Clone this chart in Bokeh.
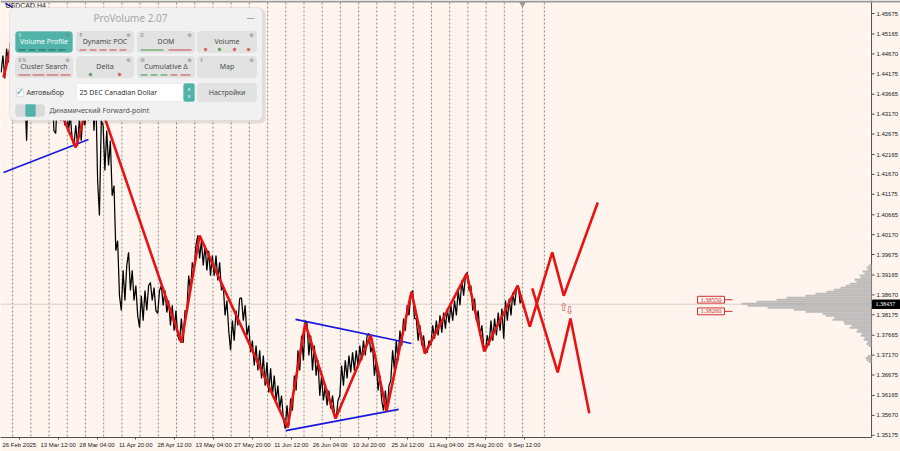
from bokeh.plotting import figure
from bokeh.models import Range1d, FixedTicker, PrintfTickFormatter, BoxAnnotation, Label
from bokeh.embed import file_html
from bokeh.resources import INLINE

BG = "#FFF5EE"

# ---------------- data ----------------
# daily highs / lows (H4 chart, 6 bars per day), from 26 Feb 2025
highs = [1.4463,1.4480,1.4495,1.4513,1.4530,1.4500,1.4463,1.4401,1.4426,1.4451,
         1.4463,1.4438,1.4426,1.4401,1.4388,1.4376,1.4363,1.4351,1.4339,1.4314,
         1.4289,1.4306,1.4321,1.4339,1.4351,1.4390,1.4370,1.4301,1.4289,1.4276,
         1.4251,1.4139,1.4002,1.3928,1.3940,1.3973,1.3928,1.3890,1.3865,1.3878,
         1.3890,1.3898,1.3885,1.3878,1.3890,1.3878,1.3853,1.3841,1.3828,1.3808,
         1.3828,1.3915,1.3948,1.3990,1.4015,1.4002,1.3990,1.3977,1.3965,1.3965,
         1.3948,1.3890,1.3853,1.3803,1.3828,1.3858,1.3860,1.3841,1.3791,1.3753,
         1.3741,1.3729,1.3716,1.3699,1.3684,1.3666,1.3641,1.3616,1.3592,1.3609,
         1.3666,1.3729,1.3766,1.3803,1.3796,1.3766,1.3741,1.3704,1.3666,1.3641,
         1.3629,1.3616,1.3604,1.3691,1.3704,1.3716,1.3724,1.3729,1.3741,1.3753,
         1.3766,1.3771,1.3741,1.3704,1.3666,1.3629,1.3641,1.3729,1.3753,1.3778,
         1.3808,1.3841,1.3870,1.3878,1.3808,1.3791,1.3766,1.3753,1.3791,1.3803,
         1.3816,1.3823,1.3833,1.3841,1.3853,1.3878,1.3903,1.3915,1.3923,1.3890,
         1.3858,1.3828,1.3791,1.3766,1.3803,1.3808,1.3823,1.3833,1.3853,1.3858,
         1.3873,1.3883,1.3890,1.3858]
lows = [1.4421,1.4406,1.4446,1.4463,1.4480,1.4438,1.4376,1.4251,1.4351,1.4376,
        1.4388,1.4363,1.4351,1.4314,1.4276,1.4269,1.4301,1.4289,1.4276,1.4256,
        1.4239,1.4239,1.4251,1.4289,1.4301,1.4276,1.4152,1.4065,1.4177,1.4189,
        1.4114,1.3977,1.3865,1.3828,1.3853,1.3878,1.3853,1.3816,1.3786,1.3803,
        1.3828,1.3853,1.3828,1.3821,1.3841,1.3823,1.3791,1.3778,1.3766,1.3753,
        1.3748,1.3828,1.3878,1.3928,1.3958,1.3940,1.3928,1.3915,1.3915,1.3903,
        1.3878,1.3816,1.3778,1.3729,1.3753,1.3791,1.3803,1.3766,1.3724,1.3691,
        1.3679,1.3659,1.3641,1.3624,1.3616,1.3604,1.3584,1.3559,1.3534,1.3542,
        1.3579,1.3629,1.3679,1.3704,1.3716,1.3679,1.3666,1.3616,1.3604,1.3592,
        1.3584,1.3574,1.3559,1.3616,1.3641,1.3659,1.3674,1.3679,1.3691,1.3704,
        1.3716,1.3724,1.3666,1.3629,1.3604,1.3579,1.3579,1.3654,1.3679,1.3704,
        1.3741,1.3778,1.3816,1.3808,1.3753,1.3741,1.3724,1.3724,1.3741,1.3758,
        1.3766,1.3773,1.3783,1.3798,1.3803,1.3816,1.3841,1.3865,1.3878,1.3828,
        1.3803,1.3766,1.3741,1.3729,1.3741,1.3753,1.3766,1.3778,1.3758,1.3803,
        1.3816,1.3841,1.3846,1.3833]
last_close = 1.38437

# zigzag (bar index, price)
zz_bars = [5, 23, 33, 46, 124, 153, 298, 328, 473, 502, 552, 610, 636, 677, 699, 768, 797, 852]
zz_prices = [1.4408, 1.4525, 1.4456, 1.4513, 1.4234, 1.4391, 1.3748, 1.4015, 1.3537, 1.3796,
             1.3559, 1.3766, 1.3577, 1.3875, 1.3721, 1.3920, 1.3726, 1.3890]
up_bars = [852, 872, 909, 928, 984]
up_prices = [1.3890, 1.3788, 1.3973, 1.3865, 1.4097]
dn_bars = [876, 918, 939, 970]
dn_prices = [1.3883, 1.3674, 1.3808, 1.3572]

# blue trend lines
blue_lines = [
    ([5, 145], [1.4172, 1.4254]),
    ([486, 677], [1.3806, 1.3746]),
    ([470, 656], [1.3529, 1.3582]),
    ([8, 20], [1.4593, 1.4583]),
]

# volume profile
vp_levels = [1.3940,1.3935,1.3930,1.3925,1.3920,1.3915,1.3910,1.3905,1.3900,1.3895,
             1.3890,1.3885,1.3880,1.3875,1.3870,1.3865,1.3860,1.3855,1.3850,1.3845,
             1.3840,1.3835,1.3830,1.3825,1.3820,1.3815,1.3810,1.3805,1.3800,1.3795,
             1.3790,1.3785,1.3780,1.3775,1.3770,1.3765,1.3760,1.3755,1.3750,1.3745,
             1.3740,1.3715,1.3710,1.3705,1.3700]
vp_volumes = [3,5,4,9,7,12,11,17,15,22,26,31,38,45,56,66,85,95,115,130,
              124,104,78,66,49,46,37,39,28,27,20,22,14,15,10,11,7,8,4,5,
              3,4,6,5,3]
poc_levels = [1.38550, 1.38260]

# axes
ytick_vals = [1.45675,1.45165,1.44670,1.44175,1.43665,1.43170,1.42675,1.42165,1.41670,1.41175,
              1.40665,1.40170,1.39675,1.39165,1.38670,1.38175,1.37665,1.37170,1.36675,1.36165,
              1.35670,1.35175]
xtick_bars = [31, 95, 159, 223, 287, 351, 415, 479, 543, 607, 671, 735, 799, 863]
xtick_labels = ["26 Feb 2025", "13 Mar 12:00", "28 Mar 04:00", "11 Apr 20:00", "28 Apr 12:00",
                "13 May 04:00", "27 May 20:00", "11 Jun 12:00", "26 Jun 04:00", "10 Jul 20:00",
                "25 Jul 12:00", "11 Aug 04:00", "25 Aug 20:00", "9 Sep 12:00"]
week_sep_bars = list(range(20, 861, 30)) + [896]

# ---------------- figure ----------------
# frame spans the full width; chart area = bars 0..1435 (ref px 0..871), price scale to the right
X_END = 1435
p = figure(width=900, height=451, x_range=Range1d(0, 1482.7), y_range=Range1d(1.35119, 1.4600),
           y_axis_location="right", output_backend="svg", toolbar_location=None,
           background_fill_color=BG, border_fill_color=BG,
           min_border_left=0, min_border_top=0, min_border_bottom=14, min_border_right=0)
p.extra_x_ranges = {"ref": Range1d(0, 900)}
p.extra_y_ranges = {"ref": Range1d(437, 0)}
p.grid.visible = False
p.outline_line_color = None

AX_FONT = "Liberation Sans"
ya = p.yaxis[0]
ya.ticker = FixedTicker(ticks=ytick_vals)
ya.formatter = PrintfTickFormatter(format="%.5f")
ya.fixed_location = 1476
ya.major_label_standoff = -23
ya.major_label_text_font = AX_FONT
ya.major_label_text_font_size = "6px"
ya.major_label_text_color = "#202020"
ya.major_tick_out = 3
ya.major_tick_in = 0
ya.minor_tick_out = 0
ya.minor_tick_in = 0
ya.axis_line_color = None
ya.major_tick_line_color = None

xa = p.xaxis[0]
xa.ticker = FixedTicker(ticks=xtick_bars)
xa.major_label_overrides = {b: s for b, s in zip(xtick_bars, xtick_labels)}
xa.bounds = (0, X_END)
xa.major_label_text_font = AX_FONT
xa.major_label_text_font_size = "6px"
xa.major_label_text_color = "#202020"
xa.major_tick_out = 2
xa.major_tick_in = 0
xa.minor_tick_out = 0
xa.minor_tick_in = 0
xa.major_label_standoff = 2
xa.axis_line_color = "#505050"
xa.major_tick_line_color = "#505050"

# price-scale line and ticks
p.segment(x0=X_END, y0=0, x1=X_END, y1=437, y_range_name="ref", line_color="#505050", line_width=1)
p.segment(x0=[X_END] * len(ytick_vals), y0=ytick_vals, x1=[X_END + 5] * len(ytick_vals), y1=ytick_vals,
          line_color="#505050", line_width=1)

# top frame line
p.segment(x0=0, y0=1, x1=900, y1=1, x_range_name="ref", y_range_name="ref",
          line_color="#9a9a9a", line_width=2)

# weekly separators
p.segment(x0=week_sep_bars, y0=2, x1=week_sep_bars, y1=437, y_range_name="ref",
          line_color="#8a8a8a", line_dash="2 2", line_width=1, level="underlay")

# current price line
p.segment(x0=0, y0=last_close, x1=X_END, y1=last_close, line_color="#dccfcb", line_width=1)

# price path
px, py = [], []
n = len(highs)
for i in range(n):
    mid = (highs[i] + lows[i]) / 2
    nxt = (highs[i + 1] + lows[i + 1]) / 2 if i + 1 < n else last_close
    seq = (highs[i], lows[i]) if nxt < mid else (lows[i], highs[i])
    px += [6 * i + 1, 6 * i + 4]
    py += list(seq)
px.append(861)
py.append(last_close)
p.line(px, py, line_color="black", line_width=1.25)

# volume profile
k = 1.647
p.hbar(y=vp_levels, left=[X_END - v * k for v in vp_volumes], right=X_END, height=0.0005,
       fill_color="#b0b0b0", fill_alpha=0.85, line_color=None)

# blue lines
for bx, by in blue_lines:
    p.line(bx, by, line_color="#1818E0", line_width=1.6)

# red zigzag + projections
p.line(zz_bars, zz_prices, line_color="#E81212", line_width=2.6)
p.line(up_bars, up_prices, line_color="#E81212", line_width=2.6)
p.line(dn_bars, dn_prices, line_color="#E81212", line_width=2.6)

p.text(x=[928], y=[1.3838], text=["⇧"], text_color="#E05050", text_font_size="11px",
       text_align="center", text_baseline="middle", text_font="DejaVu Sans")
p.text(x=[937], y=[1.3830], text=["⇩"], text_color="#E05050", text_font_size="11px",
       text_align="center", text_baseline="middle", text_font="DejaVu Sans")

# POC labels
for lev in poc_levels:
    p.quad(left=697, right=724, top=lev + 0.00085, bottom=lev - 0.00085, x_range_name="ref",
           fill_color=BG, line_color="#D03030", line_width=1)
    p.segment(x0=724, y0=lev, x1=732, y1=lev, x_range_name="ref", line_color="#D03030", line_width=1)
    p.text(x=[710.5], y=[lev], text=["%.5f" % lev], x_range_name="ref", text_color="#C83030",
           text_font_size="6.5px", text_align="center", text_baseline="middle", text_font=AX_FONT)

# top marker
p.scatter([522], [3], marker="inverted_triangle", size=6, color="#9a9a9a",
          x_range_name="ref", y_range_name="ref")

# symbol label
p.add_layout(Label(x=5, y=5, text="USDCAD,H4", x_range_name="ref", y_range_name="ref",
                   text_font_size="7px", text_color="#202020", text_baseline="middle", text_font=AX_FONT))

# current price box on the price scale
p.quad(left=872, right=900, top=last_close + 0.00105, bottom=last_close - 0.00105, x_range_name="ref",
       fill_color="black", line_color="black")
p.text(x=[875], y=[last_close], text=["%.5f" % last_close], x_range_name="ref",
       text_color="white", text_font_size="6px", text_baseline="middle", text_font=AX_FONT)

# ---------------- ProVolume panel ----------------
UI_FONT = "Noto Sans"
TEAL = "#4FB3AA"


def rbox(l, r, t, b, fill, line=None, radius=3, alpha=1.0):
    p.add_layout(BoxAnnotation(left=l, right=r, top=t, bottom=b, x_range_name="ref", y_range_name="ref",
                               fill_color=fill, fill_alpha=alpha, line_color=line, line_width=1,
                               border_radius=radius))


def lab(x, y, text, size, color, align="left", font=UI_FONT):
    p.add_layout(Label(x=x, y=y, text=text, x_range_name="ref", y_range_name="ref",
                       text_font_size=size, text_color=color, text_align=align,
                       text_baseline="middle", text_font=font))


rbox(10, 265, 8, 123, "black", None, 5, 0.10)
rbox(9, 262, 7, 120, "#F1F1F1", "#C4C4C4", 5)
lab(130, 17.5, "ProVolume 2.07", "10px", "#A6A6A6", "center")
lab(250, 17, "—", "8px", "#8c8c8c", "center")

cols = [(15, 72), (76, 133), (137, 194), (197, 256)]
rows = [(31, 52), (56, 77)]
buttons = [["Volume Profile", "Dynamic POC", "DOM", "Volume"],
           ["Cluster Search", "Delta", "Cumulative Δ", "Map"]]
tags = [["V", "P", "D", ""], ["R  N", "", "M", "F"]]
for ri, (t, b) in enumerate(rows):
    for ci, (l, r) in enumerate(cols):
        active = (ri == 0 and ci == 0)
        rbox(l, r, t, b, TEAL if active else "#E2E2E2", "#D2D2D2" if not active else TEAL, 3)
        lab((l + r) / 2, (t + b) / 2 - 1, buttons[ri][ci], "7px", "white" if active else "#4A4A4A", "center")
        if tags[ri][ci]:
            lab(l + 3, t + 3, tags[ri][ci], "4.5px", "#E8F6F4" if active else "#7a7a7a")
        lab(r - 5, t + 3, "⚙", "5px", "#7a7a7a", "center", "DejaVu Sans")

# button indicator dashes
dash_specs = [
    (0, 0, [(18, 25), (28, 35), (38, 45), (48, 55), (58, 65)], "#2d6f69"),
    (0, 1, [(79, 86), (89, 96), (99, 106), (109, 116), (119, 126)], "#d06060"),
    (0, 2, [(140, 163)], "#5aa05a"),
    (0, 2, [(168, 191)], "#d06060"),
    (1, 0, [(18, 30), (32, 44), (46, 58), (60, 70)], "#d06060"),
    (1, 2, [(140, 147), (150, 157), (160, 167)], "#5aa05a"),
    (1, 2, [(170, 177), (180, 190)], "#d06060"),
]
for ri, ci, segs, col in dash_specs:
    yb = rows[ri][1] - 2.5
    p.segment(x0=[s[0] for s in segs], y0=yb, x1=[s[1] for s in segs], y1=yb,
              x_range_name="ref", y_range_name="ref", line_color=col, line_width=1.2, level="overlay")
dots = [(205, "#d06060"), (219, "#5aa05a"), (234, "#d06060"), (248, "#d06060")]
p.scatter([d[0] for d in dots], [rows[0][1] - 3] * 4, color=[d[1] for d in dots], size=2.5,
          x_range_name="ref", y_range_name="ref", level="overlay")
p.scatter([90, 119], [rows[1][1] - 3] * 2, color=["#5aa05a", "#d06060"], size=2.5,
          x_range_name="ref", y_range_name="ref", level="overlay")

# row 3
rbox(16, 23, 88, 96, "white", "#A8A8A8", 1)
lab(19.5, 91, "✓", "10px", "#3aa79d", "center", "DejaVu Sans")
lab(26, 92, "Автовыбор", "7px", "#404040")
rbox(76, 194, 83, 101, "white", "#D0D0D0", 2)
lab(79, 92, "25 DEC Canadian Dollar", "7px", "#333333")
rbox(183, 194, 83, 101, TEAL, TEAL, 2)
lab(188.5, 88.5, "∧", "5px", "white", "center", "DejaVu Sans")
lab(188.5, 95.5, "∨", "5px", "white", "center", "DejaVu Sans")
rbox(197, 256, 83, 101, "#E2E2E2", "#D2D2D2", 3)
lab(226.5, 92, "Настройки", "7px", "#4A4A4A", "center")

# row 4
rbox(15, 44, 104, 116, "#DADADA", "#D0D0D0", 3)
rbox(25, 35, 104, 116, TEAL, TEAL, 1)
lab(49, 110, "Динамический Forward-point", "7px", "#505050")

open("out.html", "w").write(file_html(p, INLINE))
